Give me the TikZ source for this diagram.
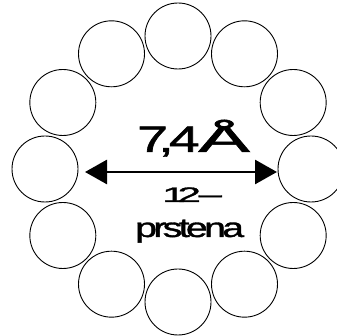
\documentclass[tikz,border=0pt]{standalone}
\usepackage{fontspec}
\setmainfont{Liberation Sans}
\newfontfamily\heavyfont[FakeBold=1.2]{Liberation Sans}
\usetikzlibrary{arrows.meta}
\begin{document}
\begin{tikzpicture}[x=1pt,y=1pt,
  ring/.style={circle,draw,line width=0.9pt,minimum size=66pt,inner sep=0pt},
  dim/.style={line width=2.8pt,{Triangle[length=22pt,width=24pt]}-{Triangle[length=22pt,width=24pt]}},
  lbl/.style={inner sep=0pt,anchor=base west,font=\heavyfont}]
\useasboundingbox (0,0) rectangle (337,336);
\foreach \i in {1,...,12} {
  \node[ring] (c\i) at ({178+133*cos(90-30*(\i-1))},{167+133*sin(90-30*(\i-1))}) {};
}
\coordinate (aL) at (85,164);
\coordinate (aR) at (277,164);
\draw[dim] (aL) -- (aR);
\node[lbl] (t1) at (137,184) {\fontsize{37}{37}\selectfont\scalebox{1.5}[1]{7\kern-6.5pt,\kern-3.3pt4\kern-1pt}\scalebox{2.1}[1]{Å}};
\node[lbl] (t2) at (162,134) {\scalebox{2}[1]{\fontsize{21}{21}\selectfont 1\kern-4pt2\kern-3pt\scalebox{2.2}[1]{-}}};
\node[lbl] (t3) at (135,99) {\scalebox{1.45}[1]{\fontsize{27}{27}\selectfont p\kern-2.5pt r\kern-2.5pt s\kern-2.5pt t\kern-2.5pt e\kern-2.5pt n\kern-2.5pt a}};
\end{tikzpicture}
\end{document}
